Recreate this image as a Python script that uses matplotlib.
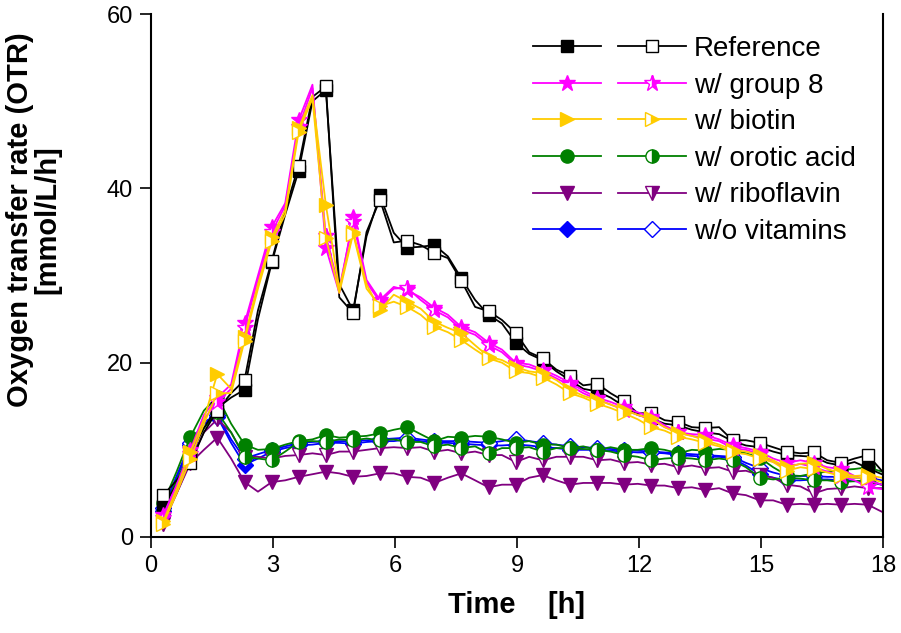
import matplotlib
matplotlib.use("Agg")
import matplotlib.pyplot as plt
from matplotlib.legend_handler import HandlerTuple

plt.rcParams['font.family'] = ['Liberation Sans', 'DejaVu Sans']

# sampling every 20 min, markers on every second point
time_h = [0.30, 0.63, 0.97, 1.30, 1.63, 1.97, 2.30, 2.63, 2.97, 3.30, 3.63, 3.97,
          4.30, 4.63, 4.97, 5.30, 5.63, 5.97, 6.30, 6.63, 6.97, 7.30, 7.63, 7.97,
          8.30, 8.63, 8.97, 9.30, 9.63, 9.97, 10.30, 10.63, 10.97, 11.30, 11.63, 11.97,
          12.30, 12.63, 12.97, 13.30, 13.63, 13.97, 14.30, 14.63, 14.97, 15.30, 15.63, 15.97,
          16.30, 16.63, 16.97, 17.30, 17.63, 17.97]

ref_filled = [3.5, 6.0, 9.5, 12.5, 14.8, 16.0, 16.9, 25.0, 31.5, 37.0, 42.0, 50.0, 51.3, 29.0,
              26.0, 34.5, 39.2, 34.9, 33.2, 33.3, 33.5, 32.2, 29.7, 27.2, 25.5, 24.5, 22.3, 21.0,
              20.3, 19.0, 18.0, 17.0, 16.7, 16.0, 15.0, 14.0, 13.6, 13.0, 12.8, 12.3, 12.0, 11.8,
              11.0, 10.5, 10.3, 9.8, 9.4, 9.3, 9.2, 8.5, 8.2, 8.6, 7.9, 7.2]
ref_open = [4.8, 6.5, 8.5, 12.0, 14.5, 16.5, 18.0, 26.0, 31.7, 37.5, 42.6, 50.5, 51.7, 27.5,
            25.7, 35.0, 38.7, 33.8, 34.0, 33.5, 32.6, 32.0, 29.4, 26.4, 25.9, 24.9, 23.4, 21.2,
            20.5, 19.2, 18.5, 17.4, 17.6, 16.5, 15.6, 14.2, 14.2, 13.4, 13.2, 12.6, 12.5, 12.6,
            11.1, 11.1, 10.8, 10.3, 9.8, 9.6, 9.7, 8.8, 8.5, 9.0, 9.4, 7.6]

grp8_filled = [2.5, 6.0, 10.0, 14.0, 16.0, 17.5, 24.5, 30.0, 35.6, 38.3, 47.8, 51.9, 33.2, 28.0,
               36.7, 29.5, 27.2, 28.7, 28.3, 27.5, 26.3, 25.5, 24.1, 23.5, 22.3, 21.5, 20.0, 19.8,
               19.2, 18.5, 17.7, 16.8, 16.0, 15.5, 14.9, 14.3, 13.8, 12.8, 12.0, 11.8, 11.7, 11.2,
               10.5, 10.2, 9.8, 9.0, 8.5, 8.8, 8.5, 8.0, 7.8, 7.0, 6.5, 6.0]
grp8_open = [2.2, 5.5, 9.5, 13.5, 15.5, 17.0, 24.0, 29.5, 35.0, 38.0, 47.0, 51.5, 34.5, 28.5,
             36.2, 29.2, 27.0, 28.5, 28.6, 27.2, 26.0, 25.2, 23.8, 23.2, 22.0, 21.2, 19.8, 19.5,
             19.0, 18.2, 17.4, 16.5, 15.8, 15.2, 14.6, 14.0, 13.5, 12.6, 12.0, 11.6, 11.3, 11.0,
             10.2, 10.0, 9.5, 8.6, 8.0, 8.4, 8.0, 7.5, 7.0, 6.5, 5.7, 5.5]

biotin_filled = [1.8, 5.5, 9.8, 13.5, 18.7, 17.0, 22.9, 29.0, 34.4, 37.5, 46.9, 50.7, 38.1, 28.5,
                 35.0, 29.0, 26.0, 27.8, 27.0, 26.2, 24.7, 24.0, 23.4, 22.0, 20.7, 20.3, 19.5, 19.0,
                 18.8, 18.0, 16.9, 16.2, 15.7, 15.2, 14.6, 14.0, 13.6, 12.6, 11.9, 11.6, 11.1, 10.6,
                 10.0, 9.8, 9.4, 8.8, 8.0, 8.4, 8.5, 7.8, 7.3, 7.0, 7.1, 6.8]
biotin_open = [1.5, 5.0, 9.0, 13.0, 16.5, 16.5, 22.5, 28.5, 34.0, 37.0, 46.5, 50.3, 34.3, 28.0,
               34.8, 28.5, 26.5, 27.0, 26.4, 25.5, 24.1, 23.5, 22.6, 21.5, 20.5, 20.0, 19.0, 18.8,
               18.3, 17.5, 16.5, 16.0, 15.3, 14.8, 14.2, 13.5, 12.6, 12.2, 11.5, 11.2, 10.8, 10.4,
               9.7, 9.5, 9.0, 8.6, 7.6, 8.0, 7.8, 7.4, 7.0, 6.8, 6.8, 6.3]

orotic_filled = [3.9, 7.5, 11.5, 14.5, 16.1, 13.0, 10.6, 10.0, 10.1, 10.6, 11.0, 11.2, 11.7, 11.4,
                 11.5, 11.6, 11.9, 12.3, 12.6, 11.8, 11.0, 11.5, 11.4, 11.6, 11.5, 11.2, 10.8, 11.0,
                 10.6, 10.6, 10.2, 10.4, 10.0, 10.3, 10.0, 10.0, 10.2, 10.0, 9.6, 10.0, 9.9, 10.1,
                 10.0, 9.6, 9.1, 8.0, 7.1, 7.0, 7.3, 7.5, 7.7, 7.8, 8.0, 7.5]
orotic_open = [2.9, 6.5, 9.8, 12.5, 14.3, 12.0, 9.2, 9.0, 8.8, 9.8, 10.9, 11.0, 10.9, 11.2,
               11.1, 11.3, 11.1, 11.2, 10.9, 10.9, 10.4, 10.6, 10.2, 10.4, 9.6, 10.2, 10.2, 10.3,
               9.8, 10.2, 10.2, 10.1, 10.0, 9.8, 9.4, 9.2, 8.8, 9.0, 9.1, 9.0, 8.8, 9.0,
               8.8, 8.0, 6.8, 6.6, 6.8, 6.7, 6.5, 6.5, 6.3, 6.4, 6.5, 6.0]

ribo_filled = [2.0, 5.0, 8.5, 10.0, 11.4, 9.0, 6.3, 5.2, 6.3, 6.5, 6.9, 7.2, 7.5, 7.3,
               6.9, 7.0, 7.3, 7.3, 6.9, 6.8, 6.2, 6.8, 7.3, 6.5, 5.7, 6.0, 6.0, 6.8,
               7.1, 6.5, 6.0, 6.2, 6.2, 6.2, 6.0, 6.1, 5.9, 5.9, 5.6, 5.7, 5.4, 5.6,
               5.0, 4.8, 4.2, 4.2, 3.7, 3.8, 3.7, 3.8, 3.7, 3.8, 3.7, 2.9]
ribo_open = [1.5, 5.0, 8.8, 12.0, 13.5, 12.0, 9.2, 9.2, 9.0, 9.3, 9.4, 9.6, 9.4, 9.8,
             9.8, 10.0, 10.2, 10.3, 10.2, 10.3, 9.8, 10.0, 9.6, 9.8, 9.4, 9.4, 8.6, 9.2,
             8.8, 9.2, 9.2, 9.2, 8.8, 8.9, 8.5, 8.6, 8.3, 8.4, 8.0, 8.2, 7.9, 8.0,
             7.5, 7.6, 7.1, 6.8, 6.0, 5.8, 5.0, 5.5, 5.6, 5.8, 5.6, 5.6]

novit_filled = [3.0, 6.8, 10.5, 13.0, 13.8, 10.8, 8.3, 9.0, 9.8, 10.2, 10.5, 10.6, 10.8, 10.8,
                10.7, 10.9, 11.0, 11.0, 11.2, 11.0, 10.8, 10.8, 10.7, 10.6, 10.5, 10.5, 10.6, 10.5,
                10.3, 10.2, 10.0, 10.0, 10.0, 9.9, 9.8, 9.7, 9.7, 9.6, 9.4, 9.3, 9.2, 9.2,
                9.0, 8.2, 7.2, 6.8, 6.5, 6.5, 6.6, 6.6, 6.5, 6.4, 6.3, 6.0]
novit_open = [3.3, 7.0, 10.8, 13.2, 14.0, 11.2, 9.0, 9.5, 10.0, 10.4, 10.8, 10.9, 11.0, 11.0,
              11.0, 11.1, 11.2, 11.3, 11.4, 11.2, 11.0, 11.0, 11.0, 10.9, 10.8, 11.0, 11.3, 11.0,
              10.8, 10.6, 10.4, 10.3, 10.2, 10.1, 10.0, 9.9, 9.8, 9.7, 9.6, 9.5, 9.4, 9.3,
              9.2, 8.5, 7.9, 7.4, 7.0, 7.0, 7.0, 6.9, 6.9, 6.8, 6.8, 6.5]

labels = ["Reference", "w/ group 8", "w/ biotin", "w/ orotic acid", "w/ riboflavin", "w/o vitamins"]
colors = ["black", "#ff00ff", "#ffcc00", "#008000", "#800080", "#0000ff"]
markers = ["s", "*", ">", "o", "v", "D"]
sizes = [9, 12, 10, 9.5, 10, 8.5]
filled_data = [ref_filled, grp8_filled, biotin_filled, orotic_filled, ribo_filled, novit_filled]
open_data = [ref_open, grp8_open, biotin_open, orotic_open, ribo_open, novit_open]

fig = plt.figure(figsize=(9.01, 6.33), dpi=100)
ax = fig.add_axes([0.1676, 0.1517, 0.8124, 0.826])

# draw order: low curves first, high curves on top
draw_order = [5, 4, 3, 0, 1, 2]
handles = {}
for i in draw_order:
    c = colors[i]
    lf, = ax.plot(time_h, filled_data[i], color=c, lw=1.3, marker=markers[i], ms=sizes[i],
                  mfc=c, mec=c, mew=1.0, markevery=2)
    if markers[i] in ("s", "D"):
        lo, = ax.plot(time_h, open_data[i], color=c, lw=1.3, marker=markers[i], ms=sizes[i],
                      mfc="white", mec=c, mew=1.0, markevery=2)
    else:
        lo, = ax.plot(time_h, open_data[i], color=c, lw=1.3, marker=markers[i], ms=sizes[i],
                      fillstyle="right", mfc=c, mfcalt="white", mec=c, mew=1.0, markevery=2)
    handles[i] = (lf, lo)

ax.set_xlim(0, 18)
ax.set_ylim(0, 60)
ax.set_xticks([0, 3, 6, 9, 12, 15, 18])
ax.set_yticks([0, 20, 40, 60])
ax.tick_params(axis="both", direction="out", length=8, width=1.2, labelsize=17, pad=5)
ax.tick_params(axis="y", right=False)
ax.spines["top"].set_visible(False)
for s in ("left", "bottom", "right"):
    ax.spines[s].set_linewidth(1.5)

ax.set_xlabel("Time    [h]", fontsize=21, fontweight="bold", labelpad=10)
ax.set_ylabel("Oxygen transfer rate (OTR)\n[mmol/L/h]", fontsize=21, fontweight="bold",
              linespacing=1.0)
ax.yaxis.set_label_coords(-0.122, 0.606)

leg = ax.legend([handles[i] for i in range(6)], labels,
                handler_map={tuple: HandlerTuple(ndivide=None, pad=0.62)},
                loc="upper left", bbox_to_anchor=(0.522, 0.958), frameon=False,
                fontsize=20, handlelength=5.5, handletextpad=0.3,
                labelspacing=0.38, borderpad=0, borderaxespad=0)

fig.savefig("out.png", dpi=100)
